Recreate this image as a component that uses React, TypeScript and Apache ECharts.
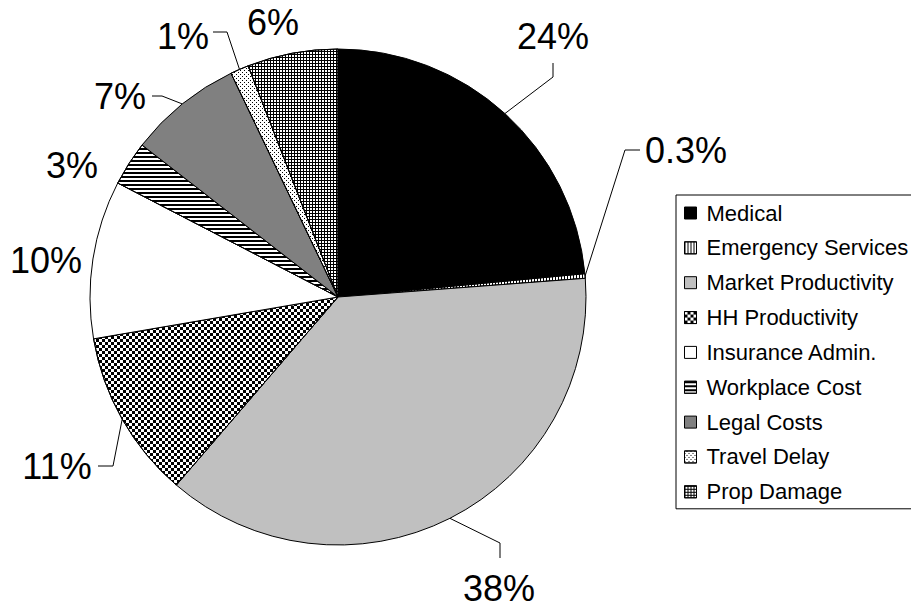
import React, { useEffect, useRef } from "react";
import * as echarts from "echarts";

const categories = [
  "Medical",
  "Emergency Services",
  "Market Productivity",
  "HH Productivity",
  "Insurance Admin.",
  "Workplace Cost",
  "Legal Costs",
  "Travel Delay",
  "Prop Damage",
];
// percent shares (labels round these)
const shares = [23.5, 0.3, 37.5, 11.0, 10.3, 2.9, 7.4, 1.2, 5.9];

const FONT = "'Liberation Sans', Arial, Helvetica, sans-serif";
const CX = 338;
const CY = 297;
const R = 248;

const dec = (dashArrayX: any, dashArrayY: any) => ({
  symbol: "rect",
  symbolSize: 1,
  color: "#000",
  backgroundColor: "#fff",
  dashArrayX,
  dashArrayY,
  rotation: 0,
});

const sliceStyles: any[] = [
  { color: "#000" },
  { color: "#fff", decal: dec([1, 2], [3, 0]) },
  { color: "#c0c0c0" },
  { color: "#fff", decal: dec([[3, 3], [0, 3, 3, 0]], [3, 0]) },
  { color: "#fff" },
  { color: "#fff", decal: dec([3, 0], [2, 2]) },
  { color: "#808080" },
  { color: "#fff", decal: dec([[1, 3], [0, 2, 1, 1]], [1, 1]) },
  { color: "#fff", decal: dec([[3, 0], [1, 2]], [1, 0, 2, 0]) },
];

// label placement (annotation layout) and leader-line elbows
const labelSpots: { x: number; y: number; line?: number[][] }[] = [
  { x: 553, y: 36, line: [[553, 77], [553, 63]] },
  { x: 686, y: 150, line: [[625, 150], [640, 150]] },
  { x: 499, y: 588, line: [[500, 543], [500, 558]] },
  { x: 57, y: 466, line: [[113, 466], [98, 466]] },
  { x: 46, y: 260 },
  { x: 72, y: 165 },
  { x: 120, y: 96, line: [[162, 96], [152, 96]] },
  { x: 183, y: 36, line: [[227, 32], [213, 32]] },
  { x: 273, y: 22 },
];

function arcMid(i: number) {
  const total = shares.reduce((a, b) => a + b, 0);
  let cum = 0;
  for (let j = 0; j < i; j++) cum += shares[j];
  const ang = ((cum + shares[i] / 2) / total) * Math.PI * 2;
  return [CX + R * Math.sin(ang), CY - R * Math.cos(ang)];
}

export default function App() {
  const ref = useRef<HTMLDivElement>(null);
  useEffect(() => {
    if (!ref.current) return;
    const chart = echarts.init(ref.current, null, { renderer: "svg" });
    chart.setOption({
      animation: false,
      backgroundColor: "#fff",
      legend: {
        orient: "vertical",
        left: 676,
        top: 195,
        itemWidth: 12,
        itemHeight: 12,
        itemGap: 12.85,
        icon: "rect",
        padding: [7, 20, 6, 8],
        borderColor: "#000",
        borderWidth: 1,
        backgroundColor: "#fff",
        selectedMode: false,
        textStyle: {
          fontFamily: FONT,
          fontSize: 22,
          color: "#000",
          padding: [0, 0, 0, 5],
        },
        itemStyle: { borderColor: "#000", borderWidth: 1 },
        data: categories,
      },
      series: [
        {
          type: "pie",
          center: [CX, CY],
          radius: R,
          startAngle: 90,
          clockwise: true,
          avoidLabelOverlap: false,
          emphasis: { disabled: true },
          itemStyle: { borderColor: "#000", borderWidth: 1 },
          label: {
            show: true,
            position: "outside",
            fontFamily: FONT,
            fontSize: 36,
            color: "#000",
            formatter: (p: any) =>
              (p.value < 1 ? p.value.toFixed(1) : Math.round(p.value)) + "%",
          },
          labelLine: {
            show: true,
            length: 10,
            length2: 10,
            lineStyle: { color: "#000", width: 1 },
          },
          labelLayout: (params: any) => {
            const s = labelSpots[params.dataIndex];
            const out: any = {
              x: s.x,
              y: s.y,
              align: "center",
              verticalAlign: "middle",
            };
            if (s.line) out.labelLinePoints = [arcMid(params.dataIndex), s.line[0], s.line[1]];
            return out;
          },
          data: categories.map((name, i) => ({
            name,
            value: shares[i],
            itemStyle: sliceStyles[i],
            labelLine: { show: !!labelSpots[i].line },
          })),
        },
      ],
    });
    return () => chart.dispose();
  }, []);
  return (
    <div
      ref={ref}
      style={{ position: "absolute", left: 0, top: 0, width: 911, height: 608 }}
    />
  );
}
